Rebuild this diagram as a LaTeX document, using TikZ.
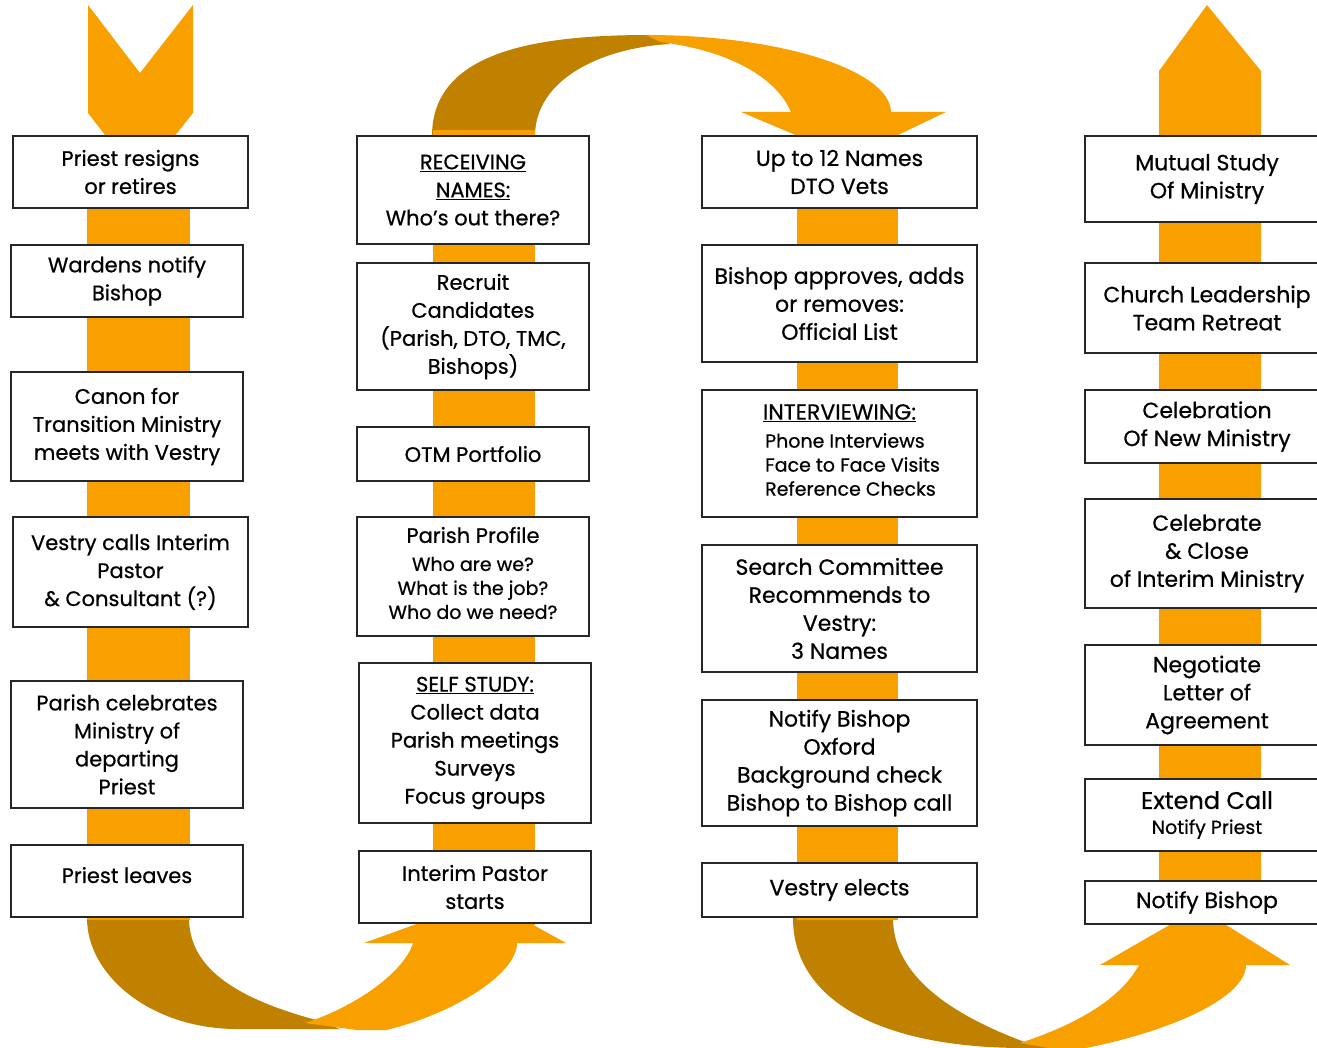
\documentclass[tikz,border=0pt]{standalone}
\usepackage{fontspec}
\setmainfont{Poppins}[FakeBold=0.6]
\usepackage{tikz}
\usetikzlibrary{positioning}

\definecolor{flowlight}{RGB}{248,160,0}
\definecolor{flowdark}{RGB}{192,128,0}

\newcommand{\smalltxt}{\fontsize{19}{24}\selectfont}

\tikzset{
  stepbox/.style={draw=black!85, line width=1.4pt, fill=white, align=center,
    inner sep=2pt, font=\fontsize{21}{28}\selectfont},
  widebox/.style={stepbox, font=\fontsize{22}{28}\selectfont},
  band/.style={fill=flowlight},
  backband/.style={fill=flowdark},
}

\begin{document}
\begin{tikzpicture}[x=1pt, y=-1pt]
  \useasboundingbox (0,0) rectangle (1317,1048);
  \clip (0,0) rectangle (1317,1048);

  % Bottom left turn
  \fill[backband] (87,918) .. controls (87,975) and (150,1028) .. (235,1029)
    -- (340,1029) -- (320,1021) .. controls (240,1000) and (189,970) .. (189,918) -- cycle;
  \fill[band] (305,1023) -- (357,1030) -- (386,1030) .. controls (450,1015) and (517,975) .. (517,943)
    -- (566,943) -- (486,899) -- (364,943) -- (413,943)
    .. controls (405,970) and (360,1005) .. (305,1023) -- cycle;

  % Top arch
  \fill[backband] (432,136) .. controls (432,50) and (540,35) .. (650,35)
    -- (670,44) .. controls (600,48) and (535,80) .. (535,136) -- cycle;
  \fill[band] (646,35) .. controls (780,35) and (890,70) .. (891,112)
    -- (946,112) -- (850,158) -- (741,112) -- (791,112)
    .. controls (775,75) and (725,50) .. (660,42) -- cycle;

  % Bottom right turn
  \fill[backband] (793,918) .. controls (793,1000) and (880,1048) .. (1024,1048)
    -- (1060,1048) -- (1030,1044) .. controls (950,1015) and (893,975) .. (893,918) -- cycle;
  \fill[band] (1020,1043) -- (1060,1050) -- (1075,1050) .. controls (1160,1035) and (1246,1000) .. (1246,965)
    -- (1290,965) -- (1199,908) -- (1100,965) -- (1139,965)
    .. controls (1120,1000) and (1075,1025) .. (1020,1043) -- cycle;

  % Column bars
  \fill[band] (88,5) -- (140,73) -- (193,5) -- (193,113) -- (140,180) -- (88,113) -- cycle;
  \fill[band] (87,175) rectangle (190,920);
  \fill[band] (433,130) rectangle (535,925);
  \fill[band] (797,140) rectangle (898,920);
  \fill[band] (1159,890) -- (1159,71) -- (1207,5) -- (1261,71) -- (1261,890) -- cycle;

  % Column 1
  \node[stepbox, minimum width=235pt, minimum height=72pt] (resign) at (130.5,172) {Priest resigns\\or retires};
  \node[stepbox, minimum width=232pt, minimum height=72pt] (wardens) at (127,281) {Wardens notify\\Bishop};
  \node[stepbox, minimum width=232pt, minimum height=109pt] (canon) at (127,426.5) {Canon for\\Transition Ministry\\meets with Vestry};
  \node[stepbox, minimum width=235pt, minimum height=110pt] (calls) at (130.5,572) {Vestry calls Interim\\Pastor\\\& Consultant (?)};
  \node[stepbox, minimum width=232pt, minimum height=127pt] (celebrates) at (127,744.5) {Parish celebrates\\Ministry of\\departing\\Priest};
  \node[stepbox, minimum width=232pt, minimum height=72pt] (leaves) at (127,881) {Priest leaves\\[-16pt]\mbox{}};

  % Column 2
  \node[stepbox, minimum width=232pt, minimum height=108pt] (receiving) at (473,190) {\underline{RECEIVING}\\\underline{NAMES:}\\Who’s out there?};
  \node[stepbox, minimum width=232pt, minimum height=127pt] (recruit) at (473,326.5) {Recruit\\Candidates\\(Parish, DTO, TMC,\\Bishops)};
  \node[stepbox, minimum width=232pt, minimum height=54pt] (portfolio) at (473,454) {OTM Portfolio};
  \node[stepbox, minimum width=232pt, minimum height=119pt] (profile) at (473,576.5)
    {Parish Profile\\{\smalltxt\begin{tabular}[t]{@{}c@{}}Who are we?\\What is the job?\\Who do we need?\end{tabular}}};
  \node[stepbox, minimum width=232pt, minimum height=160pt] (selfstudy) at (475,743) {\underline{SELF STUDY:}\\Collect data\\Parish meetings\\Surveys\\Focus groups};
  \node[stepbox, minimum width=232pt, minimum height=72pt] (interim) at (475,887) {Interim Pastor\\starts};

  % Column 3
  \node[widebox, minimum width=275pt, minimum height=72pt] (names) at (839.5,172) {Up to 12 Names\\DTO Vets};
  \node[widebox, minimum width=275pt, minimum height=117pt] (approves) at (839.5,303.5) {Bishop approves, adds\\or removes:\\Official List};
  \node[widebox, minimum width=275pt, minimum height=127pt] (interviewing) at (839.5,453.5)
    {\underline{INTERVIEWING:}\\\hspace*{26pt}{\smalltxt\begin{tabular}[t]{@{}l@{}}Phone Interviews\\Face to Face Visits\\Reference Checks\end{tabular}}};
  \node[widebox, minimum width=275pt, minimum height=127pt] (search) at (839.5,608.5) {Search Committee\\Recommends to\\Vestry:\\3 Names};
  \node[widebox, minimum width=275pt, minimum height=126pt] (notify) at (839.5,763) {Notify Bishop\\Oxford\\Background check\\Bishop to Bishop call};
  \node[widebox, minimum width=275pt, minimum height=54pt] (elects) at (839.5,890) {Vestry elects};

  % Column 4
  \node[widebox, minimum width=244pt, minimum height=86pt] (mutual) at (1207,179) {Mutual Study\\Of Ministry};
  \node[widebox, minimum width=244pt, minimum height=90pt] (retreat) at (1207,308) {Church Leadership\\Team Retreat};
  \node[widebox, minimum width=244pt, minimum height=73pt] (newministry) at (1207,426.5) {Celebration\\Of New Ministry};
  \node[widebox, minimum width=244pt, minimum height=109pt] (close) at (1207,553.5) {Celebrate\\\& Close\\of Interim Ministry};
  \node[widebox, minimum width=244pt, minimum height=100pt] (negotiate) at (1207,695) {Negotiate\\Letter of\\Agreement};
  \node[widebox, minimum width=244pt, minimum height=72pt] (extend) at (1207,815) {\fontsize{24}{28}\selectfont Extend Call\\[-3pt]\smalltxt Notify Priest};
  \node[widebox, minimum width=244pt, minimum height=43pt] (bishop) at (1207,902.5) {Notify Bishop};
\end{tikzpicture}
\end{document}
